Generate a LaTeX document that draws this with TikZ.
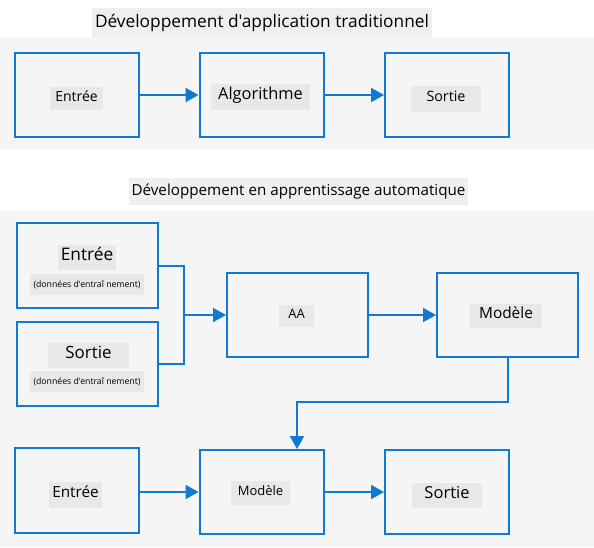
\documentclass[tikz,border=0pt]{standalone}
\usepackage{fontspec}
\setmainfont{Open Sans}[Ligatures=TeXOff]
\usetikzlibrary{arrows.meta}
\definecolor{blu}{HTML}{1279D2}
\definecolor{panel}{HTML}{F5F5F5}
\definecolor{lbl}{HTML}{E8E8E8}
\definecolor{ttl}{HTML}{EFEFEF}
\newcommand{\fs}[1]{\fontsize{#1}{#1}\selectfont}
\tikzset{
  box/.style={draw=blu, line width=2pt, minimum width=124pt, minimum height=84pt, inner sep=0pt},
  widebox/.style={box, minimum width=141pt},
  lab/.style 2 args={fill=lbl, inner sep=0pt, minimum width=#1, minimum height=#2, text height=0.72em, text depth=0.2em},
  ttlbox/.style={fill=ttl, inner sep=0pt},
  arr/.style={draw=blu, line width=2pt, -{Triangle[length=13pt,width=14pt]}},
  con/.style={draw=blu, line width=2pt}
}
\begin{document}
\begin{tikzpicture}[x=1pt,y=-1pt]
\useasboundingbox (0,0) rectangle (594,547);
\fill[white] (0,0) rectangle (594,547);
\fill[panel] (0,37) rectangle (594,150);
\fill[panel] (0,210) rectangle (594,547);
% titles
\node[ttlbox, minimum width=340pt, minimum height=29pt, font=\fs{17.3}] (t1) at (262,22.5) {Développement d'application traditionnel};
\node[ttlbox, minimum width=339pt, minimum height=27pt, font=\fs{15.2}] (t2) at (298.5,191.5) {Développement en apprentissage automatique};
% top row
\node[box] (b1) at (77,95) {};
\node[box] (b2) at (261.5,95) {};
\node[box] (b3) at (447,95) {};
\node[lab={53pt}{23pt}, font=\fs{14}] (l1) at (76.5,98.5) {Entrée};
\node[lab={99pt}{26pt}, font=\fs{16.4}] (l2) at (260.5,97) {Algorithme};
\node[lab={70pt}{26pt}, font=\fs{14.3}] (l3) at (446,99) {Sortie};
\draw[arr] (b1.east) -- (b2.west);
\draw[arr] (b2.east) -- (b3.west);
% ML row
\node[widebox, minimum height=85pt] (e1) at (87.5,265.5) {};
\node[widebox] (s1) at (87.5,364) {};
\node[widebox] (aa) at (297.5,315) {};
\node[widebox] (m1) at (507.5,315) {};
\node[lab={58pt}{25pt}, font=\fs{17.3}] (le1) at (87,257.5) {Entrée};
\node[lab={114pt}{21pt}, font=\fs{8.7}] (se1) at (87,284.5) {(données d'entraî nement)};
\node[lab={81pt}{25pt}, font=\fs{16.9}] (ls1) at (88.5,355.5) {Sortie};
\node[lab={114pt}{21pt}, font=\fs{8.7}] (ss1) at (87,381.5) {(données d'entraî nement)};
\node[lab={35pt}{22pt}, font=\fs{13}] (laa) at (296.5,316) {AA};
\node[lab={72pt}{24pt}, font=\fs{15.4}] (lm1) at (506,316) {Modèle};
\coordinate (j) at (184,315);
\draw[con] (e1.east) -- (j |- e1.east) -- (j |- s1.east) -- (s1.east);
\draw[arr] (j) -- (aa.west);
\draw[arr] (aa.east) -- (m1.west);
% bottom row
\node[box, minimum height=85pt] (e2) at (77,490.5) {};
\node[box] (m2) at (261.5,492) {};
\node[box] (s2) at (447,492) {};
\coordinate (k) at (297,402);
\draw[arr] (m1.south) -- (m1.south |- k) -- (k) -- (k |- m2.north);
\node[lab={53pt}{26pt}, font=\fs{15.3}] (le2) at (75.5,495) {Entrée};
\node[lab={59pt}{24pt}, font=\fs{13}] (lm2) at (260.5,493) {Modèle};
\node[lab={70pt}{25pt}, font=\fs{16.5}] (ls2) at (447,495.5) {Sortie};
\draw[arr] (e2.east |- m2) -- (m2.west);
\draw[arr] (m2.east) -- (s2.west);
\end{tikzpicture}
\end{document}
